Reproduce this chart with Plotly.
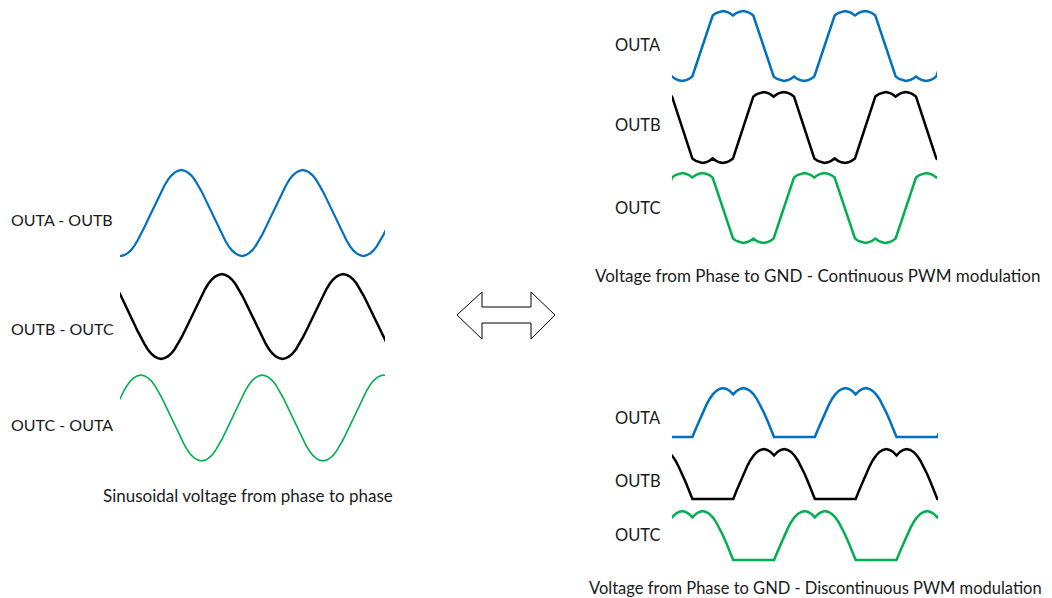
import plotly.graph_objects as go

# the page body adds an 8 px margin, so the figure is 8 px smaller on each side
W, H = 1044, 590
OFFSET = 8

ANGLE = list(range(0, 360, 10))

SINE = [0.00, 0.17, 0.34, 0.50, 0.64, 0.77, 0.87, 0.94, 0.98, 1.00, 0.98, 0.94,
        0.87, 0.77, 0.64, 0.50, 0.34, 0.17, 0.00, -0.17, -0.34, -0.50, -0.64, -0.77,
        -0.87, -0.94, -0.98, -1.00, -0.98, -0.94, -0.87, -0.77, -0.64, -0.50, -0.34, -0.17]

# saddle shaped phase voltage, continuous PWM
CONT_PWM = [0.00, 0.30, 0.59, 0.87, 0.94, 0.98, 1.00, 0.98, 0.94, 0.87, 0.94, 0.98,
            1.00, 0.98, 0.94, 0.87, 0.59, 0.30, 0.00, -0.30, -0.59, -0.87, -0.94, -0.98,
            -1.00, -0.98, -0.94, -0.87, -0.94, -0.98, -1.00, -0.98, -0.94, -0.87, -0.59, -0.30]

# phase voltage clamped to GND for 120 deg, discontinuous PWM
DISC_PWM = [0.50, 0.64, 0.77, 0.87, 0.94, 0.98, 1.00, 0.98, 0.94, 0.87, 0.94, 0.98,
            1.00, 0.98, 0.94, 0.87, 0.77, 0.64, 0.50, 0.34, 0.17, 0.00, 0.00, 0.00,
            0.00, 0.00, 0.00, 0.00, 0.00, 0.00, 0.00, 0.00, 0.00, 0.00, 0.17, 0.34]

PHASES = ["OUTA", "OUTB", "OUTC"]
PHASE_SHIFT = [0, 120, 240]           # degrees
LINE_LABELS = ["OUTA - OUTB", "OUTB - OUTC", "OUTC - OUTA"]

LEFT_WINDOW = (-92, 694)              # degrees shown in each panel
RIGHT_WINDOW = (-90, 692)

COLORS = ["#0070C0", "#000000", "#00B050"]
FONT = "Lato"


def px_x(p):
    return (p - OFFSET) / W


def px_y(p):
    return 1 - (p - OFFSET) / H


def periods(profile, shift):
    xs, ys = [], []
    for k in range(-2, 3):
        xs += [a + shift + 360 * k for a in ANGLE]
        ys += profile
    return xs, ys


fig = go.Figure()
layout_axes = {}
n = 0


def add_wave(profile, shift, window, xpx, zero_px, unit_px, pad, color, width):
    """value v is drawn at pixel row zero_px - v * unit_px."""
    global n
    n += 1
    lo, hi = pad
    top = max(OFFSET, zero_px - hi * unit_px)
    bot = min(OFFSET + H, zero_px - lo * unit_px)
    yrange = [(zero_px - bot) / unit_px, (zero_px - top) / unit_px]
    xs, ys = periods(profile, shift)
    fig.add_trace(go.Scatter(
        x=xs, y=ys, mode="lines",
        line=dict(color=color, width=width),
        xaxis="x" if n == 1 else f"x{n}",
        yaxis="y" if n == 1 else f"y{n}",
        showlegend=False, hoverinfo="skip",
    ))
    hidden = dict(visible=False, showgrid=False, zeroline=False, fixedrange=True)
    layout_axes["xaxis" if n == 1 else f"xaxis{n}"] = dict(
        hidden, range=list(window), domain=[px_x(xpx[0]), px_x(xpx[1])],
        anchor="y" if n == 1 else f"y{n}")
    layout_axes["yaxis" if n == 1 else f"yaxis{n}"] = dict(
        hidden, range=yrange, domain=[px_y(bot), px_y(top)],
        anchor="x" if n == 1 else f"x{n}")


# ── left: line-to-line sinusoids ────────────────────────────────────────────
left_rows = [(213, 43), (316.5, 42.5), (418, 43)]
left_width = [2.2, 2.5, 1.6]
for i in range(3):
    c, a = left_rows[i]
    add_wave(SINE, PHASE_SHIFT[i], LEFT_WINDOW, (120, 385), c, a,
             (-1.25, 1.25), COLORS[i], left_width[i])

# ── top right: continuous PWM ───────────────────────────────────────────────
cont_rows = [(46, 35), (127.5, 35.5), (208, 35)]
for i in range(3):
    c, a = cont_rows[i]
    add_wave(CONT_PWM, PHASE_SHIFT[i], RIGHT_WINDOW, (672, 937), c, a,
             (-1.25, 1.25), COLORS[i], 2.5)

# ── bottom right: discontinuous PWM ─────────────────────────────────────────
disc_rows = [(388, 437), (449, 499), (511, 560)]
for i in range(3):
    top, bot = disc_rows[i]
    add_wave(DISC_PWM, PHASE_SHIFT[i], RIGHT_WINDOW, (672, 938), bot, bot - top,
             (-0.15, 1.15), COLORS[i], 2.5)

# labels
annotations = []


def label(text, x, y, anchor="left", size=16):
    annotations.append(dict(
        text=text, x=px_x(x), y=px_y(y), xref="paper", yref="paper",
        xanchor=anchor, yanchor="middle", showarrow=False,
        font=dict(family=FONT, size=size, color="#1a1a1a"),
    ))


for txt, y in zip(LINE_LABELS, [219, 328, 424]):
    label(txt, 9, y)
label("Sinusoidal voltage from phase to phase", 248, 495, "center", 17)

for txt, y in zip(PHASES, [45, 125, 208]):
    label(txt, 613, y, size=16.5)
label("Voltage from Phase to GND - Continuous PWM modulation", 817, 275, "center", 17)

for txt, y in zip(PHASES, [418, 481, 535]):
    label(txt, 613, y, size=16.5)
label("Voltage from Phase to GND - Discontinuous PWM modulation", 815, 588, "center", 16.5)

# outlined double arrow between the panels
arrow_pts = [(457, 315), (482, 292), (482, 307), (531, 307), (531, 292), (555, 315),
             (531, 339), (531, 323), (482, 323), (482, 339)]
path = "M " + " L ".join(f"{px_x(x):.5f},{px_y(y):.5f}" for x, y in arrow_pts) + " Z"

fig.update_layout(
    width=W, height=H,
    margin=dict(l=0, r=0, t=0, b=0),
    paper_bgcolor="white", plot_bgcolor="rgba(0,0,0,0)",
    annotations=annotations,
    shapes=[dict(type="path", path=path, xref="paper", yref="paper",
                 line=dict(color="black", width=1), fillcolor="white")],
    **layout_axes,
)

fig.write_html("out.html", config={"displayModeBar": False})
